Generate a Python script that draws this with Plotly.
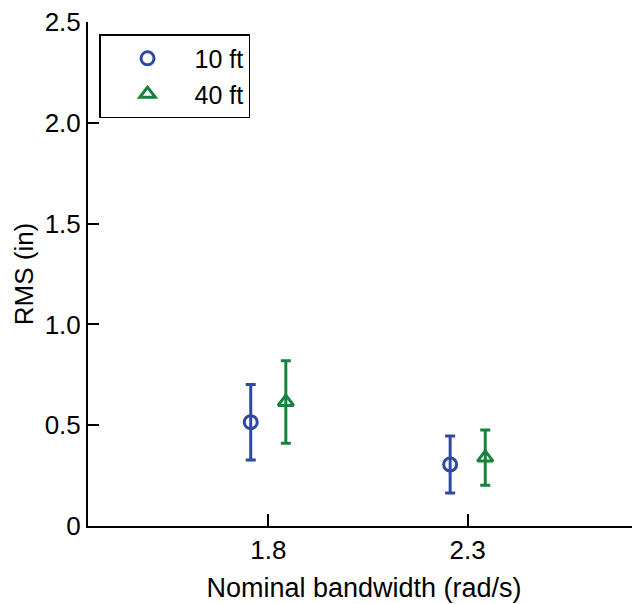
import plotly.graph_objects as go

# Data
bandwidth = [1.8, 2.3]
tick_text = ["1.8", "2.3"]
rms_10ft = [0.515, 0.305]
err_10ft = [0.187, 0.141]
rms_40ft = [0.615, 0.339]
err_40ft = [0.205, 0.137]
y_ticks = [0, 0.5, 1.0, 1.5, 2.0, 2.5]
y_tick_text = ["0", "0.5", "1.0", "1.5", "2.0", "2.5"]

blue = "#2f48a1"
green = "#17823c"
offset = 0.044  # horizontal dodge between series

font_family = "Arial, Liberation Sans, sans-serif"

fig = go.Figure()
fig.add_trace(go.Scatter(
    x=[b - offset for b in bandwidth], y=rms_10ft, name="10 ft", mode="markers",
    marker=dict(symbol="circle-open", size=13, color=blue, line=dict(width=3, color=blue)),
    error_y=dict(type="data", array=err_10ft, visible=True, color=blue, thickness=3, width=5),
))
fig.add_trace(go.Scatter(
    x=[b + offset for b in bandwidth], y=rms_40ft, name="40 ft", mode="markers",
    marker=dict(symbol="triangle-up-open", size=13.5, color=green, line=dict(width=3, color=green)),
    error_y=dict(type="data", array=err_40ft, visible=True, color=green, thickness=3, width=5),
))

# page body has an 8px margin, so the figure is sized to fit the 640x604 window
fig.update_layout(
    width=632, height=596,
    margin=dict(l=80, r=0, t=14, b=78),
    paper_bgcolor="white", plot_bgcolor="white",
    font=dict(family=font_family, size=25, color="black"),
    showlegend=True,
    legend=dict(
        x=0.02, y=0.976, xanchor="left", yanchor="top",
        bordercolor="black", borderwidth=1.5, bgcolor="white",
        font=dict(size=25), itemwidth=84, tracegroupgap=0,
    ),
    xaxis=dict(
        range=[1.348, 2.732], tickvals=bandwidth, ticktext=tick_text,
        showline=True, linecolor="black", linewidth=2,
        ticks="inside", ticklen=12, tickwidth=2, tickcolor="black",
        showgrid=False, zeroline=False,
        title=dict(text="Nominal bandwidth (rad/s)", font=dict(size=27), standoff=14),
        tickfont=dict(size=26),
    ),
    yaxis=dict(
        range=[0, 2.5], tickvals=y_ticks, ticktext=y_tick_text,
        showline=True, linecolor="black", linewidth=2,
        ticks="inside", ticklen=11, tickwidth=2, tickcolor="black",
        showgrid=False, zeroline=False, ticklabeloverflow="allow",
        title=dict(text="RMS (in)", font=dict(size=26), standoff=4),
        tickfont=dict(size=26),
    ),
)

fig.write_html("out.html")
